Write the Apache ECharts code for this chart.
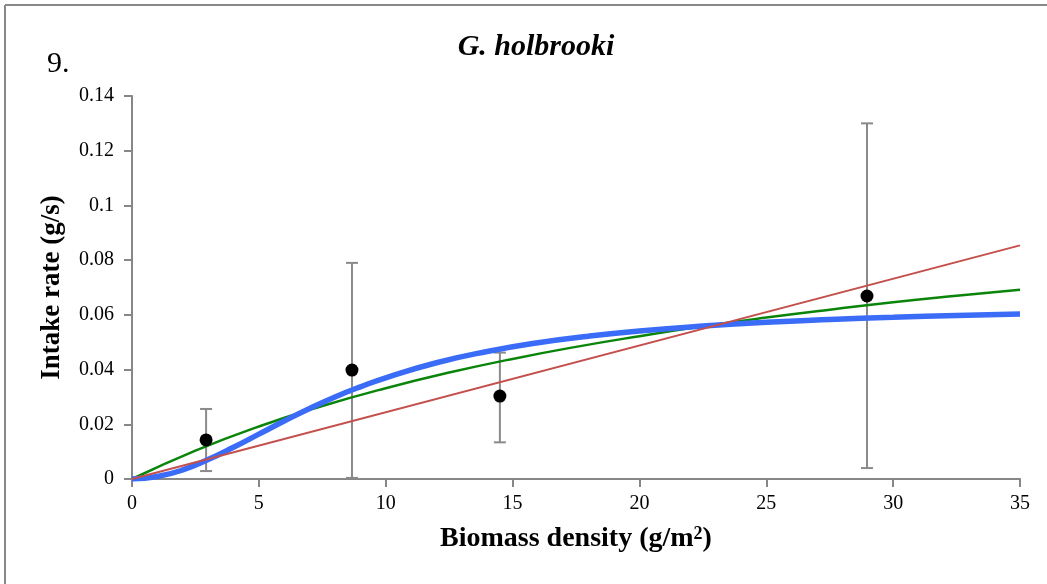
<!DOCTYPE html>
<html><head><meta charset="utf-8">
<script src="https://cdn.jsdelivr.net/npm/echarts@6/dist/echarts.min.js"></script>
<style>html,body{margin:0;padding:0;background:#fff}#c{width:1047px;height:584px}</style>
</head><body><div id="c"></div>
<script>
// Observed data (biomass density, intake rate) with error bar ends
const obsX = [2.92, 8.67, 14.5, 28.97];
const obsY = [0.0143, 0.0398, 0.0303, 0.0669];
const errLow = [0.0029, 0.0004, 0.0134, 0.0040];
const errHigh = [0.0256, 0.0790, 0.0462, 0.1300];

// Fitted curves
const linX = [0, 35];
const linY = [0, 0.0854];

const type2X = [0, 2.5, 5, 7.5, 10, 12.5, 15, 17.5, 20, 22.5, 25, 27.5, 30, 32.5, 35];
const type2Y = [0, 0.0104, 0.0192, 0.0267, 0.0332, 0.0389, 0.0439, 0.0483, 0.0522, 0.0558, 0.0590, 0.0619, 0.0646, 0.0670, 0.0692];

const type3X = [0, 1, 2, 3, 4, 5, 6, 7, 8, 9, 10, 12, 14, 16, 18, 20, 22.5, 25, 27.5, 30, 32.5, 35];
const type3Y = [0, 0.0009, 0.0033, 0.0071, 0.0116, 0.0164, 0.0212, 0.0258, 0.0300, 0.0337, 0.0370, 0.0425, 0.0466, 0.0498, 0.0522, 0.0541, 0.0559, 0.0573, 0.0583, 0.0591, 0.0598, 0.0603];

const xTicks = {min: 0, max: 35, interval: 5};
const yTicks = {min: 0, max: 0.14, interval: 0.02};

const zip = (a, b) => a.map((v, i) => [v, b[i]]);
const serif = '"Liberation Serif", "DejaVu Serif", serif';
const axisGray = '#878787';

const chart = echarts.init(document.getElementById('c'), null, {renderer: 'canvas'});
chart.setOption({
  animation: false,
  backgroundColor: '#fff',
  graphic: [
    {type: 'line', shape: {x1: 5, y1: 5, x2: 1047, y2: 5}, style: {stroke: '#888', lineWidth: 2}},
    {type: 'line', shape: {x1: 5, y1: 5, x2: 5, y2: 584}, style: {stroke: '#888', lineWidth: 2}},
    {type: 'text', left: 47, top: 49, style: {text: '9.', font: '30px ' + serif, fill: '#000'}}
  ],
  title: {
    text: 'G. holbrooki', left: 531, top: 27, textAlign: 'center',
    textStyle: {fontFamily: serif, fontStyle: 'italic', fontWeight: 'bold', fontSize: 30, color: '#000'}
  },
  grid: {left: 132, right: 27, top: 96, bottom: 105, containLabel: false},
  xAxis: {
    type: 'value', min: xTicks.min, max: xTicks.max, interval: xTicks.interval,
    name: '{n|Biomass density (g/m}{s|2}{n|)}', nameLocation: 'middle', nameGap: 46,
    nameTextStyle: {
      fontFamily: serif, fontWeight: 'bold', fontSize: 28, color: '#000',
      rich: {
        n: {fontFamily: serif, fontWeight: 'bold', fontSize: 28, color: '#000'},
        s: {fontFamily: serif, fontWeight: 'bold', fontSize: 18, color: '#000', verticalAlign: 'top', padding: [0, 0, 10, 0]}
      }
    },
    axisLine: {lineStyle: {color: axisGray, width: 2}},
    axisTick: {show: true, length: 8, lineStyle: {color: axisGray, width: 2}},
    axisLabel: {fontFamily: serif, fontSize: 20, color: '#000', margin: 15},
    splitLine: {show: false}
  },
  yAxis: {
    type: 'value', min: yTicks.min, max: yTicks.max, interval: yTicks.interval,
    name: 'Intake rate (g/s)', nameLocation: 'middle', nameGap: 66, nameRotate: 90,
    nameTextStyle: {fontFamily: serif, fontWeight: 'bold', fontSize: 27, color: '#000'},
    axisLine: {show: true, lineStyle: {color: axisGray, width: 2}},
    axisTick: {show: true, length: 8, lineStyle: {color: axisGray, width: 2}},
    axisLabel: {fontFamily: serif, fontSize: 20, color: '#000', margin: 18},
    splitLine: {show: false}
  },
  series: [
    {
      type: 'custom', z: 1,
      data: obsX.map((x, i) => [x, errLow[i], errHigh[i]]),
      renderItem: function (params, api) {
        const lo = api.coord([api.value(0), api.value(1)]);
        const hi = api.coord([api.value(0), api.value(2)]);
        const w = 6;
        const st = {stroke: '#8a8a8a', lineWidth: 2};
        return {type: 'group', children: [
          {type: 'line', shape: {x1: lo[0], y1: lo[1], x2: hi[0], y2: hi[1]}, style: st},
          {type: 'line', shape: {x1: lo[0] - w, y1: lo[1], x2: lo[0] + w, y2: lo[1]}, style: st},
          {type: 'line', shape: {x1: hi[0] - w, y1: hi[1], x2: hi[0] + w, y2: hi[1]}, style: st}
        ]};
      }
    },
    {type: 'line', z: 2, data: zip(type2X, type2Y), smooth: true, showSymbol: false,
      lineStyle: {color: '#0a850a', width: 2.5}},
    {type: 'line', z: 3, data: zip(type3X, type3Y), smooth: true, showSymbol: false,
      lineStyle: {color: '#3a6cf7', width: 5.5}},
    {type: 'line', z: 4, data: zip(linX, linY), showSymbol: false,
      lineStyle: {color: '#c4504d', width: 2}},
    {type: 'scatter', z: 5, data: zip(obsX, obsY), symbolSize: 13,
      itemStyle: {color: '#000', opacity: 1}}
  ]
});
</script></body></html>
